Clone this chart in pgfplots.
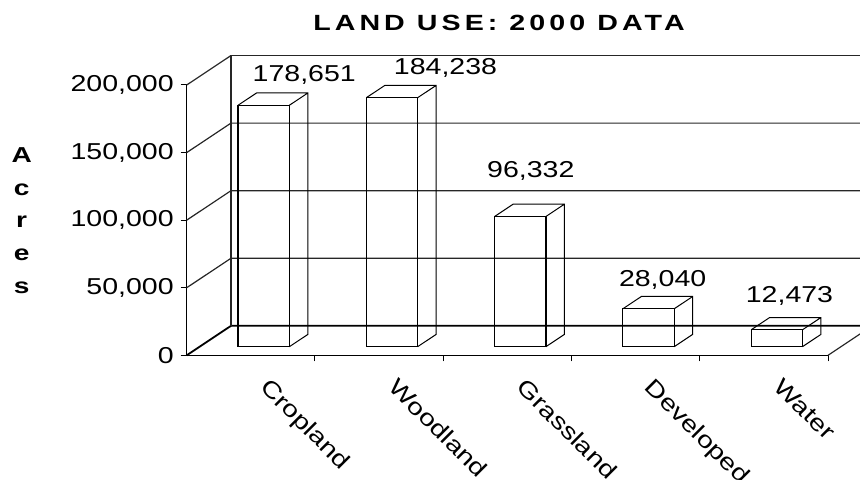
\documentclass[border=0pt]{standalone}
\usepackage{fontspec}
\setmainfont{Liberation Sans}[FakeStretch=1.24]
\newfontfamily\titlefont{Liberation Sans}[FakeStretch=1.3]
\usepackage{pgfplots}
\pgfplotsset{compat=1.18}
\usepackage{pgfplotstable}

\newdimen\barH
% top and side faces of a bar; the mark sits at the top centre of the front face
\pgfdeclareplotmark{cuboid}{%
  \pgfextracty{\barH}{\pgfpointdiff{\pgfplotspointaxisxy{0}{\val}}{\pgfplotspointaxisxy{0}{0}}}%
  \pgfpathmoveto{\pgfpoint{-12.83pt}{0pt}}%
  \pgfpathlineto{\pgfpoint{-3.58pt}{6.15pt}}%
  \pgfpathlineto{\pgfpoint{22.08pt}{6.15pt}}%
  \pgfpathlineto{\pgfpoint{22.08pt}{6.15pt+\barH}}%
  \pgfpathlineto{\pgfpoint{12.83pt}{\barH}}%
  \pgfpathmoveto{\pgfpoint{12.83pt}{0pt}}%
  \pgfpathlineto{\pgfpoint{22.08pt}{6.15pt}}%
  \pgfusepathqstroke
}

\pgfplotstableread{
x v lx ly
0 178651 20.25 15.15
1 184238 26.75 14.65
2 96332 5.25 23.0
3 28040 7.05 14.25
4 12473 6.35 16.85
}\landuse

\begin{document}
\begin{tikzpicture}
\useasboundingbox (0,0) rectangle (430pt,240pt);
\begin{axis}[
  at={(93.35pt,62.35pt)}, anchor=south west,
  scale only axis, width=320.65pt, height=135.15pt,
  xmin=-0.5, xmax=4.5, ymin=0, ymax=200000,
  clip=false,
  axis x line*=bottom, axis y line*=left,
  axis line style={black, line width=0.6pt},
  xtick={0,1,2,3,4},
  xticklabels={Cropland,Woodland,Grassland,Developed,Water},
  minor xtick={0.5,1.5,2.5,3.5,4.5},
  major x tick style={draw=none},
  ytick={0,50000,100000,150000,200000},
  scaled y ticks=false,
  /pgf/number format/fixed,
  /pgf/number format/precision=0,
  /pgf/number format/1000 sep={,},
  /pgf/number format/assume math mode=true,
  tick align=outside,
  major tick length=3pt, minor tick length=3pt,
  tick style={black, line width=0.5pt},
  tick label style={font=\fontsize{11.5}{13}\selectfont},
  xticklabel style={xshift=10pt, yshift=-7.5pt, rotate=-45, anchor=north west, inner sep=0pt},
  wall/.style={black!85, line width=0.6pt},
  floor/.style={black, line width=0.9pt},
]
\addplot[floor] coordinates {(-0.5,0) (-0.1546,21800) (4.75,21800)};
\addplot[wall] coordinates {(-0.1546,21800) (-0.1546,221800) (4.75,221800)};
\addplot[wall] coordinates {(-0.5,200000) (-0.1546,221800)};
\addplot[wall] coordinates {(-0.5,150000) (-0.1546,171800) (4.75,171800)};
\addplot[wall] coordinates {(-0.5,100000) (-0.1546,121800) (4.75,121800)};
\addplot[wall] coordinates {(-0.5,50000) (-0.1546,71800) (4.75,71800)};
\addplot[wall] coordinates {(4.5,0) (4.75,15779)};
\end{axis}

\begin{axis}[
  at={(99.8pt,66.65pt)}, anchor=south west,
  scale only axis, width=320.65pt, height=135.15pt,
  xmin=-0.5, xmax=4.5, ymin=0, ymax=200000,
  hide axis, clip=false,
]
\addplot[ybar, bar width=0.40, bar shift=0pt, draw=black, fill=none, line width=0.6pt]
  table[x=x, y=v] {\landuse};
\addplot[scatter, only marks, mark=cuboid,
  scatter/use mapped color={draw=black!80, fill=none},
  mark options={line width=0.5pt},
  point meta=y,
  visualization depends on={rawy \as \val},
  visualization depends on={\thisrow{lx} \as \lx},
  visualization depends on={\thisrow{ly} \as \ly},
  nodes near coords={\pgfmathprintnumber[fixed, precision=0, 1000 sep={,}, assume math mode=true]{\pgfplotspointmeta}},
  every node near coord/.append style={anchor=center, xshift=\lx pt, yshift=\ly pt, font=\fontsize{11.5}{13}\selectfont, text=black, inner sep=0pt},
] table[x=x, y=v] {\landuse};
\end{axis}

\node[font=\fontsize{11}{13}\titlefont\bfseries\addfontfeatures{LetterSpace=18.5}, anchor=base, inner sep=0pt] at (249.5pt,224.65pt) {LAND USE: 2000 DATA};
\node[font=\fontsize{10.8}{16.4}\titlefont\bfseries, align=center, inner sep=0pt] at (10.85pt,129.75pt) {A\\c\\r\\e\\s};
\end{tikzpicture}
\end{document}
